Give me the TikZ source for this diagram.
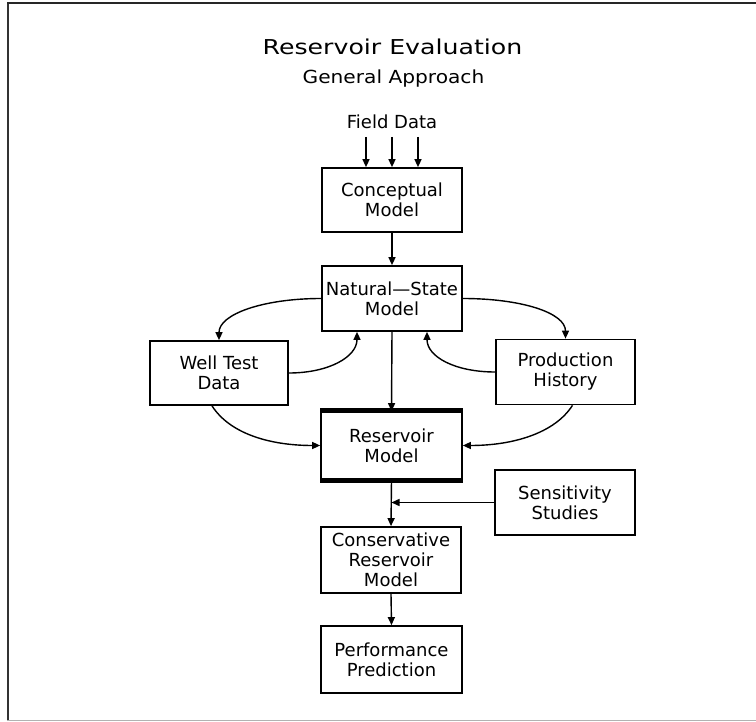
\documentclass[tikz,border=0pt]{standalone}
\usepackage{fontspec}
\usepackage{graphicx}
\setmainfont{DejaVu Sans}
\usetikzlibrary{arrows.meta}
\tikzset{
  box/.style={draw, line width=1.7pt, align=center, inner sep=0pt,
    font=\fontsize{18}{20}\selectfont},
  arr/.style={line width=1.4pt, -{Triangle[length=8pt,width=7pt]}},
  lbl/.style={anchor=base, inner sep=0pt},
}
\begin{document}
\begin{tikzpicture}[x=1pt,y=-1pt]
\useasboundingbox (0,0) rectangle (756,722);
% frame
\draw[line width=2pt, black!80] (7.5,3) -- (7.5,720);
\draw[line width=1.6pt, black!85] (7,3) -- (756,3);
\draw[line width=1.5pt, black!30] (7,720.5) -- (756,720.5);
% titles
\node[lbl, font=\fontsize{20.5}{22}\selectfont] (title) at (392.5,55) {\scalebox{1.23}[1]{Reservoir Evaluation}};
\node[lbl, font=\fontsize{18}{20}\selectfont] (subtitle) at (393.5,84) {\scalebox{1.12}[1]{General Approach}};
\node[lbl, font=\fontsize{18}{20}\selectfont] (field) at (392,129) {Field Data};
% boxes
\node[box, minimum width=140pt, minimum height=64pt] (cm) at (392,200) {Conceptual\\Model};
\node[box, minimum width=140pt, minimum height=65pt] (ns) at (392,298.5) {Natural—State\\Model};
\node[box, minimum width=138pt, minimum height=64pt] (wt) at (219,373) {Well Test\\Data};
\node[box, minimum width=139pt, minimum height=65pt] (ph) at (565.5,372) {Production\\History};
\node[box, minimum width=141pt, minimum height=67pt] (rm) at (391.5,445.5) {Reservoir\\Model};
\node[box, minimum width=140pt, minimum height=65pt] (ss) at (565,502.5) {Sensitivity\\Studies};
\node[box, minimum width=140pt, minimum height=66pt] (crm) at (391,560) {Conservative\\Reservoir\\Model};
\node[box, minimum width=141pt, minimum height=67pt] (pp) at (391.5,659.5) {Performance\\Prediction};
% thick edges of reservoir model
\draw[line width=4pt] ([yshift=1pt]rm.north west) -- ([yshift=1pt]rm.north east);
\draw[line width=4pt] ([yshift=-1pt]rm.south west) -- ([yshift=-1pt]rm.south east);
% field data arrows
\coordinate (f1) at (366,137);
\coordinate (f2) at (392,137);
\coordinate (f3) at (418,137);
\draw[arr] (f1) -- (f1 |- cm.north);
\draw[arr] (f2) -- (f2 |- cm.north);
\draw[arr] (f3) -- (f3 |- cm.north);
% main flow
\draw[arr] (cm.south) -- (ns.north);
\draw[arr] (ns.south) -- (rm.north);
\draw[arr] (rm.south) -- (crm.north);
\draw[arr] (ss.west) -- (ss.west -| rm.south);
\draw[arr] (crm.south) -- (pp.north);
% curved connectors
\draw[arr] (ns.west) .. controls +(-58,0) and +(0,-26) .. (wt.north);
\draw[arr] (ns.east) .. controls +(58,0) and +(0,-26) .. (ph.north);
\draw[arr] (wt.east) .. controls +(40,0) and +(0,25) .. ([xshift=-35pt]ns.south);
\draw[arr] (ph.west) .. controls +(-40,0) and +(0,25) .. ([xshift=35pt]ns.south);
\draw[arr] ([xshift=-7pt]wt.south) .. controls +(18,28) and +(-50,0) .. (rm.west);
\draw[arr] ([xshift=7pt]ph.south) .. controls +(-18,28) and +(50,0) .. (rm.east);
\end{tikzpicture}
\end{document}
